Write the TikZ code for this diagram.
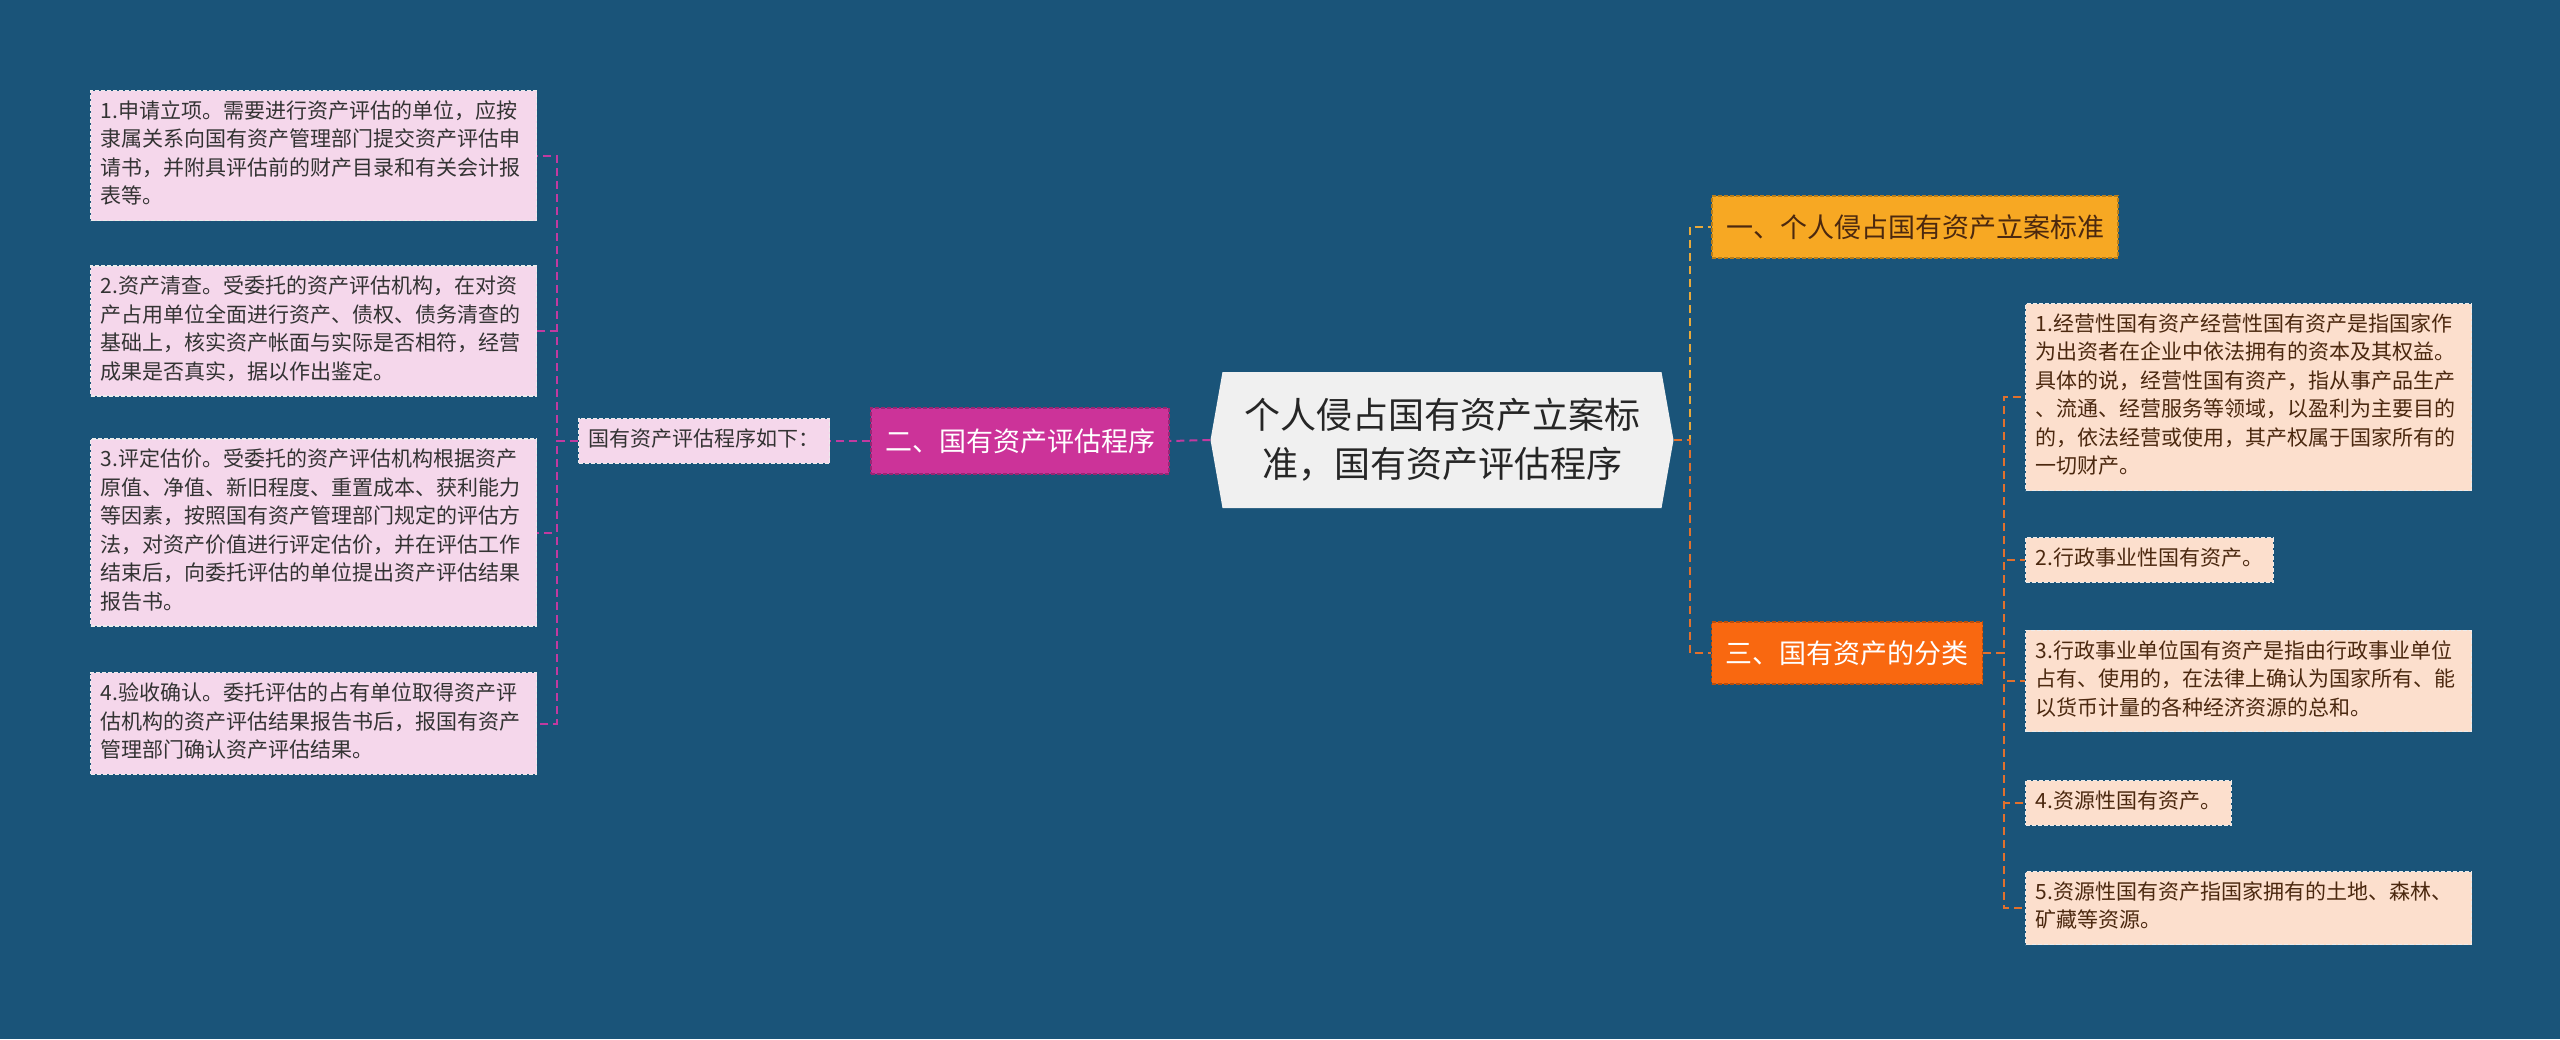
\documentclass[tikz,border=0pt]{standalone}
\usepackage{fontspec}
\newfontfamily\cjk{Noto Sans CJK SC}
\usetikzlibrary{shapes.symbols}

\definecolor{fond}{RGB}{26,84,121}
\definecolor{rose}{RGB}{245,215,235}
\definecolor{mage}{RGB}{204,51,153}
\definecolor{peche}{RGB}{252,223,205}
\definecolor{ambre}{RGB}{247,168,35}
\definecolor{orangevif}{RGB}{249,104,16}
\definecolor{gris}{RGB}{240,240,240}
\definecolor{brun}{RGB}{75,40,15}
\definecolor{lienrose}{RGB}{194,58,160}
\definecolor{lienor}{RGB}{233,169,58}
\definecolor{lienorange}{RGB}{226,112,44}

\begin{document}
\begin{tikzpicture}[x=1pt, y=-1pt,
  lien/.style={line width=2pt, dash pattern=on 8pt off 5pt},
  feuille/.style={dashed, dash pattern=on 4pt off 2pt, line width=1.2pt, align=left,
    inner xsep=10pt, inner ysep=8pt, font=\cjk\fontsize{21}{28.5}\selectfont,
    execute at begin node=\strut, execute at end node=\strut},
  largeur/.style={text width=426pt},
  gauche/.style={feuille, fill=rose, draw=white!85!gray, text=black!80},
  droite/.style={feuille, fill=peche, draw=white!85!gray, text=brun},
  niveau/.style={dashed, dash pattern=on 4pt off 2pt, line width=1.2pt, minimum height=62pt,
    inner xsep=14pt, font=\cjk\fontsize{27}{32}\selectfont},
  racine/.style={signal, signal to=west and east, signal pointer angle=160, fill=gris,
    text=black!85, align=center, minimum width=463pt, minimum height=136pt, inner sep=0pt,
    font=\cjk\fontsize{36}{49}\selectfont}]

% Fond
\useasboundingbox (0,0) rectangle (2560,1039);
\fill[fond] (0,0) rectangle (2560,1039);

% Noeud central
\node[racine] (c) at (1442,440) {个人侵占国有资产立案标\\准，国有资产评估程序};

% Branche gauche
\node[niveau, fill=mage, draw=mage!75!black, text=white, minimum height=66pt] (g2) at (1020,441) {二、国有资产评估程序};
\node[gauche] (gi) at (704,441) {国有资产评估程序如下：};
\node[gauche, largeur, anchor=west] (ga) at (90,155.5) {1.申请立项。需要进行资产评估的单位，应按\\隶属关系向国有资产管理部门提交资产评估申\\请书，并附具评估前的财产目录和有关会计报\\表等。};
\node[gauche, largeur, anchor=west] (gb) at (90,331) {2.资产清查。受委托的资产评估机构，在对资\\产占用单位全面进行资产、债权、债务清查的\\基础上，核实资产帐面与实际是否相符，经营\\成果是否真实，据以作出鉴定。};
\node[gauche, largeur, anchor=west] (gc) at (90,532.5) {3.评定估价。受委托的资产评估机构根据资产\\原值、净值、新旧程度、重置成本、获利能力\\等因素，按照国有资产管理部门规定的评估方\\法，对资产价值进行评定估价，并在评估工作\\结束后，向委托评估的单位提出资产评估结果\\报告书。};
\node[gauche, largeur, anchor=west] (gd) at (90,723.5) {4.验收确认。委托评估的占有单位取得资产评\\估机构的资产评估结果报告书后，报国有资产\\管理部门确认资产评估结果。};

% Branche droite
\node[niveau, fill=ambre, draw=ambre!75!black, text=brun] (d1) at (1915,227) {一、个人侵占国有资产立案标准};
\node[niveau, fill=orangevif, draw=orangevif!75!black, text=white] (d3) at (1847,653) {三、国有资产的分类};
\node[droite, largeur, anchor=west] (da) at (2025,397) {1.经营性国有资产经营性国有资产是指国家作\\为出资者在企业中依法拥有的资本及其权益。\\具体的说，经营性国有资产，指从事产品生产\\、流通、经营服务等领域，以盈利为主要目的\\的，依法经营或使用，其产权属于国家所有的\\一切财产。};
\node[droite, anchor=west] (db) at (2025,560) {2.行政事业性国有资产。};
\node[droite, largeur, anchor=west] (dc) at (2025,681) {3.行政事业单位国有资产是指由行政事业单位\\占有、使用的，在法律上确认为国家所有、能\\以货币计量的各种经济资源的总和。};
\node[droite, anchor=west] (dd) at (2025,803) {4.资源性国有资产。};
\node[droite, largeur, anchor=west] (de) at (2025,908) {5.资源性国有资产指国家拥有的土地、森林、\\矿藏等资源。};

% Liens
\coordinate (jg) at (557,441);
\coordinate (jd) at (1690,440);
\coordinate (jt) at (2004,653);
\draw[lien, lienrose] (c.west) -- (g2.east);
\draw[lien, lienrose] (g2.west) -- (gi.east);
\foreach \n in {ga,gb,gc,gd}
  \draw[lien, lienrose] (gi.west) -- (jg) |- (\n.east);
\draw[lien, lienor] (c.east) -- (jd) |- (d1.west);
\draw[lien, lienorange] (c.east) -- (jd) |- (d3.west);
\foreach \n in {da,db,dc,dd,de}
  \draw[lien, lienorange] (d3.east) -- (jt) |- (\n.west);

\end{tikzpicture}
\end{document}
